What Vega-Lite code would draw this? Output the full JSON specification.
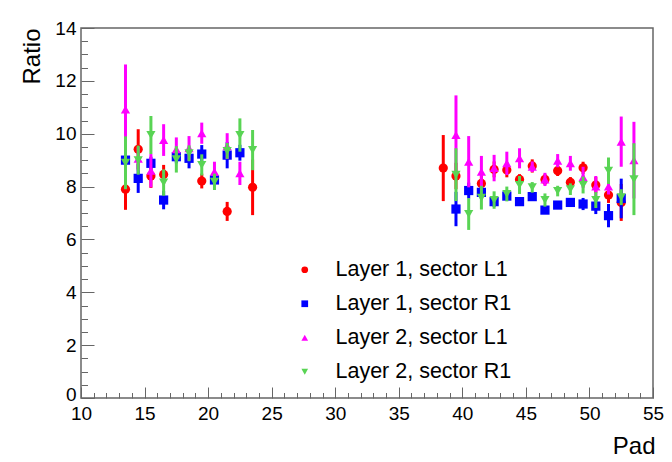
{
  "$schema": "https://vega.github.io/schema/vega-lite/v6.json",
  "width": 572,
  "height": 370,
  "autosize": {"type": "none"},
  "padding": {"left": 81, "top": 28, "right": 19, "bottom": 64},
  "background": "white",
  "config": {
    "view": {"stroke": "#666", "strokeWidth": 1.5},
    "font": "Liberation Sans",
    "axis": {
      "labelFont": "Liberation Sans",
      "titleFont": "Liberation Sans",
      "labelColor": "black",
      "titleColor": "black",
      "titleFontWeight": "normal",
      "grid": false,
      "tickColor": "#666",
      "tickWidth": 1,
      "domain": false
    },
    "legend": {
      "labelFont": "Liberation Sans",
      "labelFontSize": 21.5,
      "labelColor": "black",
      "labelLimit": 0
    }
  },
  "data": {
    "values": [
      {"pad": 13.5, "value": 7.9, "err": 0.78, "series": "Layer 1, sector L1"},
      {"pad": 14.5, "value": 9.41, "err": 0.76, "series": "Layer 1, sector L1"},
      {"pad": 15.5, "value": 8.4, "err": 0.45, "series": "Layer 1, sector L1"},
      {"pad": 16.5, "value": 8.46, "err": 0.36, "series": "Layer 1, sector L1"},
      {"pad": 19.5, "value": 8.21, "err": 0.28, "series": "Layer 1, sector L1"},
      {"pad": 21.5, "value": 7.06, "err": 0.36, "series": "Layer 1, sector L1"},
      {"pad": 23.5, "value": 7.97, "err": 1.05, "series": "Layer 1, sector L1"},
      {"pad": 38.5, "value": 8.7, "err": 1.25, "series": "Layer 1, sector L1"},
      {"pad": 39.5, "value": 8.4, "err": 0.5, "series": "Layer 1, sector L1"},
      {"pad": 41.5, "value": 8.12, "err": 0.3, "series": "Layer 1, sector L1"},
      {"pad": 42.5, "value": 8.65, "err": 0.3, "series": "Layer 1, sector L1"},
      {"pad": 43.5, "value": 8.63, "err": 0.28, "series": "Layer 1, sector L1"},
      {"pad": 44.5, "value": 8.27, "err": 0.2, "series": "Layer 1, sector L1"},
      {"pad": 45.5, "value": 8.78, "err": 0.25, "series": "Layer 1, sector L1"},
      {"pad": 46.5, "value": 8.27, "err": 0.2, "series": "Layer 1, sector L1"},
      {"pad": 47.5, "value": 8.6, "err": 0.2, "series": "Layer 1, sector L1"},
      {"pad": 48.5, "value": 8.16, "err": 0.2, "series": "Layer 1, sector L1"},
      {"pad": 49.5, "value": 8.71, "err": 0.23, "series": "Layer 1, sector L1"},
      {"pad": 50.5, "value": 8.06, "err": 0.3, "series": "Layer 1, sector L1"},
      {"pad": 51.5, "value": 7.68, "err": 0.3, "series": "Layer 1, sector L1"},
      {"pad": 52.5, "value": 7.4, "err": 0.7, "series": "Layer 1, sector L1"},

      {"pad": 13.5, "value": 9.0, "err": 0.25, "series": "Layer 1, sector R1"},
      {"pad": 14.5, "value": 8.31, "err": 0.55, "series": "Layer 1, sector R1"},
      {"pad": 15.5, "value": 8.88, "err": 0.25, "series": "Layer 1, sector R1"},
      {"pad": 16.5, "value": 7.49, "err": 0.35, "series": "Layer 1, sector R1"},
      {"pad": 17.5, "value": 9.13, "err": 0.25, "series": "Layer 1, sector R1"},
      {"pad": 18.5, "value": 9.07, "err": 0.38, "series": "Layer 1, sector R1"},
      {"pad": 19.5, "value": 9.23, "err": 0.34, "series": "Layer 1, sector R1"},
      {"pad": 20.5, "value": 8.25, "err": 0.2, "series": "Layer 1, sector R1"},
      {"pad": 21.5, "value": 9.19, "err": 0.5, "series": "Layer 1, sector R1"},
      {"pad": 22.5, "value": 9.28, "err": 0.3, "series": "Layer 1, sector R1"},
      {"pad": 39.5, "value": 7.15, "err": 0.65, "series": "Layer 1, sector R1"},
      {"pad": 40.5, "value": 7.85, "err": 0.3, "series": "Layer 1, sector R1"},
      {"pad": 41.5, "value": 7.78, "err": 0.25, "series": "Layer 1, sector R1"},
      {"pad": 42.5, "value": 7.43, "err": 0.2, "series": "Layer 1, sector R1"},
      {"pad": 43.5, "value": 7.64, "err": 0.15, "series": "Layer 1, sector R1"},
      {"pad": 44.5, "value": 7.43, "err": 0.12, "series": "Layer 1, sector R1"},
      {"pad": 45.5, "value": 7.62, "err": 0.15, "series": "Layer 1, sector R1"},
      {"pad": 46.5, "value": 7.11, "err": 0.12, "series": "Layer 1, sector R1"},
      {"pad": 47.5, "value": 7.3, "err": 0.12, "series": "Layer 1, sector R1"},
      {"pad": 48.5, "value": 7.4, "err": 0.12, "series": "Layer 1, sector R1"},
      {"pad": 49.5, "value": 7.34, "err": 0.23, "series": "Layer 1, sector R1"},
      {"pad": 50.5, "value": 7.26, "err": 0.3, "series": "Layer 1, sector R1"},
      {"pad": 51.5, "value": 6.9, "err": 0.44, "series": "Layer 1, sector R1"},
      {"pad": 52.5, "value": 7.55, "err": 0.75, "series": "Layer 1, sector R1"},

      {"pad": 13.5, "value": 10.92, "err": 1.7, "series": "Layer 2, sector L1"},
      {"pad": 14.5, "value": 9.05, "err": 0.45, "series": "Layer 2, sector L1"},
      {"pad": 15.5, "value": 8.6, "err": 0.63, "series": "Layer 2, sector L1"},
      {"pad": 16.5, "value": 9.76, "err": 0.6, "series": "Layer 2, sector L1"},
      {"pad": 17.5, "value": 9.41, "err": 0.45, "series": "Layer 2, sector L1"},
      {"pad": 18.5, "value": 9.45, "err": 0.46, "series": "Layer 2, sector L1"},
      {"pad": 19.5, "value": 10.02, "err": 0.4, "series": "Layer 2, sector L1"},
      {"pad": 20.5, "value": 8.56, "err": 0.38, "series": "Layer 2, sector L1"},
      {"pad": 21.5, "value": 9.53, "err": 0.49, "series": "Layer 2, sector L1"},
      {"pad": 22.5, "value": 8.5, "err": 0.44, "series": "Layer 2, sector L1"},
      {"pad": 39.5, "value": 9.95, "err": 1.5, "series": "Layer 2, sector L1"},
      {"pad": 40.5, "value": 8.94, "err": 0.97, "series": "Layer 2, sector L1"},
      {"pad": 41.5, "value": 8.56, "err": 0.6, "series": "Layer 2, sector L1"},
      {"pad": 42.5, "value": 8.7, "err": 0.5, "series": "Layer 2, sector L1"},
      {"pad": 43.5, "value": 8.88, "err": 0.44, "series": "Layer 2, sector L1"},
      {"pad": 44.5, "value": 9.07, "err": 0.38, "series": "Layer 2, sector L1"},
      {"pad": 45.5, "value": 8.75, "err": 0.2, "series": "Layer 2, sector L1"},
      {"pad": 46.5, "value": 8.27, "err": 0.25, "series": "Layer 2, sector L1"},
      {"pad": 47.5, "value": 8.98, "err": 0.25, "series": "Layer 2, sector L1"},
      {"pad": 48.5, "value": 8.88, "err": 0.28, "series": "Layer 2, sector L1"},
      {"pad": 49.5, "value": 8.35, "err": 0.4, "series": "Layer 2, sector L1"},
      {"pad": 50.5, "value": 8.0, "err": 0.4, "series": "Layer 2, sector L1"},
      {"pad": 51.5, "value": 8.0, "err": 0.3, "series": "Layer 2, sector L1"},
      {"pad": 52.5, "value": 9.7, "err": 0.95, "series": "Layer 2, sector L1"},
      {"pad": 53.5, "value": 9.0, "err": 1.45, "series": "Layer 2, sector L1"},

      {"pad": 13.5, "value": 8.9, "err": 1.0, "series": "Layer 2, sector R1"},
      {"pad": 14.5, "value": 9.0, "err": 0.55, "series": "Layer 2, sector R1"},
      {"pad": 15.5, "value": 9.95, "err": 0.72, "series": "Layer 2, sector R1"},
      {"pad": 16.5, "value": 8.15, "err": 0.5, "series": "Layer 2, sector R1"},
      {"pad": 17.5, "value": 9.03, "err": 0.5, "series": "Layer 2, sector R1"},
      {"pad": 18.5, "value": 9.26, "err": 0.3, "series": "Layer 2, sector R1"},
      {"pad": 19.5, "value": 8.82, "err": 0.4, "series": "Layer 2, sector R1"},
      {"pad": 20.5, "value": 8.18, "err": 0.31, "series": "Layer 2, sector R1"},
      {"pad": 21.5, "value": 9.35, "err": 0.3, "series": "Layer 2, sector R1"},
      {"pad": 22.5, "value": 9.95, "err": 0.63, "series": "Layer 2, sector R1"},
      {"pad": 23.5, "value": 9.38, "err": 0.76, "series": "Layer 2, sector R1"},
      {"pad": 39.5, "value": 8.45, "err": 1.0, "series": "Layer 2, sector R1"},
      {"pad": 40.5, "value": 6.96, "err": 0.6, "series": "Layer 2, sector R1"},
      {"pad": 41.5, "value": 7.58, "err": 0.45, "series": "Layer 2, sector R1"},
      {"pad": 42.5, "value": 7.49, "err": 0.33, "series": "Layer 2, sector R1"},
      {"pad": 43.5, "value": 7.72, "err": 0.28, "series": "Layer 2, sector R1"},
      {"pad": 44.5, "value": 8.06, "err": 0.34, "series": "Layer 2, sector R1"},
      {"pad": 45.5, "value": 7.97, "err": 0.2, "series": "Layer 2, sector R1"},
      {"pad": 46.5, "value": 7.49, "err": 0.25, "series": "Layer 2, sector R1"},
      {"pad": 47.5, "value": 7.83, "err": 0.2, "series": "Layer 2, sector R1"},
      {"pad": 48.5, "value": 7.9, "err": 0.22, "series": "Layer 2, sector R1"},
      {"pad": 49.5, "value": 8.06, "err": 0.32, "series": "Layer 2, sector R1"},
      {"pad": 50.5, "value": 7.49, "err": 0.3, "series": "Layer 2, sector R1"},
      {"pad": 51.5, "value": 8.6, "err": 0.5, "series": "Layer 2, sector R1"},
      {"pad": 52.5, "value": 7.6, "err": 0.3, "series": "Layer 2, sector R1"},
      {"pad": 53.5, "value": 8.28, "err": 1.36, "series": "Layer 2, sector R1"}
    ]
  },
  "resolve": {"axis": {"x": "independent", "y": "independent"}},
  "layer": [
    {
      "transform": [{"filter": {"field": "series", "equal": "Layer 1, sector L1"}}],
      "mark": {"type": "errorbar", "thickness": 3, "color": "#ff0000"},
      "encoding": {
        "x": {"field": "pad", "type": "quantitative", "scale": {"domain": [10, 55], "nice": false, "zero": false}, "axis": null},
        "y": {"field": "value", "type": "quantitative", "scale": {"domain": [0, 14], "nice": false}, "axis": null},
        "yError": {"field": "err"}
      }
    },
    {
      "transform": [{"filter": {"field": "series", "equal": "Layer 1, sector L1"}}],
      "mark": {"type": "point", "filled": true, "opacity": 1, "size": 85, "strokeWidth": 0},
      "encoding": {
        "x": {"field": "pad", "type": "quantitative", "axis": {
          "orient": "bottom", "title": "Pad", "values": [10, 15, 20, 25, 30, 35, 40, 45, 50, 55],
          "ticks": false, "labelFontSize": 19, "labelPadding": 6, "labelFlush": false, "labelOverlap": false,
          "titleFontSize": 24, "titleAnchor": "end", "titleAlign": "right", "titleX": 574, "titleY": 55, "titleBaseline": "alphabetic"}},
        "y": {"field": "value", "type": "quantitative", "axis": {
          "orient": "left", "title": "Ratio", "values": [0, 2, 4, 6, 8, 10, 12, 14],
          "ticks": false, "labelFontSize": 19, "labelPadding": 5, "labelFlush": false, "labelOverlap": false,
          "labelOffset": {"condition": {"test": "datum.value === 0", "value": -4}, "value": 0},
          "titleFontSize": 24, "titleAnchor": "end", "titleAlign": "right", "titleAngle": -90, "titleX": -42, "titleY": 0, "titleBaseline": "alphabetic"}},
        "color": {"field": "series", "type": "nominal", "scale": {
          "domain": ["Layer 1, sector L1", "Layer 1, sector R1", "Layer 2, sector L1", "Layer 2, sector R1"],
          "range": ["#ff0000", "#0000ff", "#ff00ff", "#59d454"]},
          "legend": {"title": null, "orient": "none", "legendX": 213, "legendY": 231, "symbolSize": 45, "symbolStrokeWidth": 0, "labelOffset": 20, "rowPadding": 11, "padding": 0, "labelLimit": 0}},
        "shape": {"field": "series", "type": "nominal", "scale": {
          "domain": ["Layer 1, sector L1", "Layer 1, sector R1", "Layer 2, sector L1", "Layer 2, sector R1"],
          "range": ["circle", "square", "triangle-up", "triangle-down"]}}
      }
    },
    {
      "transform": [{"filter": {"field": "series", "equal": "Layer 1, sector R1"}}],
      "mark": {"type": "errorbar", "thickness": 3, "color": "#0000ff"},
      "encoding": {
        "x": {"field": "pad", "type": "quantitative", "axis": null},
        "y": {"field": "value", "type": "quantitative", "axis": null},
        "yError": {"field": "err"}
      }
    },
    {
      "transform": [{"filter": {"field": "series", "equal": "Layer 1, sector R1"}}],
      "mark": {"type": "point", "filled": true, "opacity": 1, "size": 85, "strokeWidth": 0},
      "encoding": {
        "x": {"field": "pad", "type": "quantitative", "axis": {
          "orient": "bottom", "title": null, "labels": false, "values": [10, 15, 20, 25, 30, 35, 40, 45, 50, 55],
          "tickSize": 11, "offset": -11}},
        "y": {"field": "value", "type": "quantitative", "axis": {
          "orient": "left", "title": null, "labels": false, "values": [0, 2, 4, 6, 8, 10, 12, 14],
          "tickSize": 13, "offset": -13}},
        "color": {"field": "series", "type": "nominal"},
        "shape": {"field": "series", "type": "nominal"}
      }
    },
    {
      "transform": [{"filter": {"field": "series", "equal": "Layer 2, sector L1"}}],
      "mark": {"type": "errorbar", "thickness": 3, "color": "#ff00ff"},
      "encoding": {
        "x": {"field": "pad", "type": "quantitative", "axis": null},
        "y": {"field": "value", "type": "quantitative", "axis": null},
        "yError": {"field": "err"}
      }
    },
    {
      "transform": [{"filter": {"field": "series", "equal": "Layer 2, sector L1"}}],
      "mark": {"type": "point", "filled": true, "opacity": 1, "size": 85, "strokeWidth": 0},
      "encoding": {
        "x": {"field": "pad", "type": "quantitative", "axis": {
          "orient": "bottom", "title": null, "labels": false,
          "values": [11, 12, 13, 14, 16, 17, 18, 19, 21, 22, 23, 24, 26, 27, 28, 29, 31, 32, 33, 34, 36, 37, 38, 39, 41, 42, 43, 44, 46, 47, 48, 49, 51, 52, 53, 54],
          "tickSize": 5.5, "offset": -5.5}},
        "y": {"field": "value", "type": "quantitative", "axis": {
          "orient": "left", "title": null, "labels": false,
          "values": [0.5, 1, 1.5, 2.5, 3, 3.5, 4.5, 5, 5.5, 6.5, 7, 7.5, 8.5, 9, 9.5, 10.5, 11, 11.5, 12.5, 13, 13.5],
          "tickSize": 6.5, "offset": -6.5}},
        "color": {"field": "series", "type": "nominal"},
        "shape": {"field": "series", "type": "nominal"}
      }
    },
    {
      "transform": [{"filter": {"field": "series", "equal": "Layer 2, sector R1"}}],
      "mark": {"type": "errorbar", "thickness": 3, "color": "#59d454"},
      "encoding": {
        "x": {"field": "pad", "type": "quantitative", "axis": null},
        "y": {"field": "value", "type": "quantitative", "axis": null},
        "yError": {"field": "err"}
      }
    },
    {
      "transform": [{"filter": {"field": "series", "equal": "Layer 2, sector R1"}}],
      "mark": {"type": "point", "filled": true, "opacity": 1, "size": 85, "strokeWidth": 0},
      "encoding": {
        "x": {"field": "pad", "type": "quantitative", "axis": null},
        "y": {"field": "value", "type": "quantitative", "axis": null},
        "color": {"field": "series", "type": "nominal"},
        "shape": {"field": "series", "type": "nominal"}
      }
    }
  ]
}
